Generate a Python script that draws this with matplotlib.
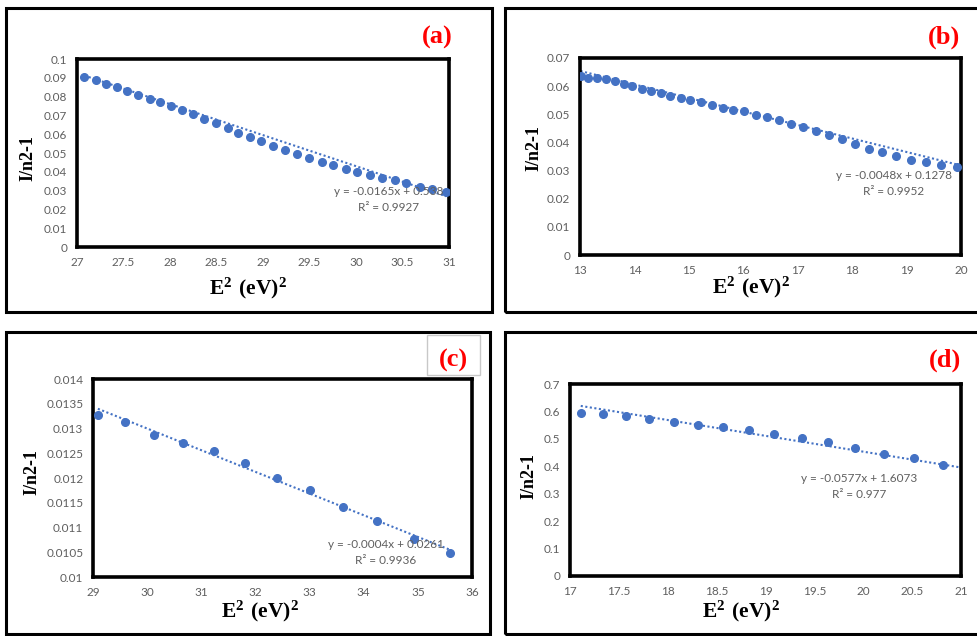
import numpy as np
import matplotlib
matplotlib.use('Agg')
import matplotlib.pyplot as plt
from matplotlib.patches import Rectangle
from matplotlib.ticker import FuncFormatter

W, H = 978, 636

plt.rcParams['mathtext.fontset'] = 'custom'
plt.rcParams['mathtext.rm'] = 'Liberation Serif'
plt.rcParams['mathtext.bf'] = 'Liberation Serif:bold'

# ── data ─────────────────────────────────────────────────────────────────────
xa = [27.08, 27.20, 27.31, 27.43, 27.54, 27.66, 27.78, 27.89, 28.01, 28.13, 28.25,
      28.37, 28.49, 28.62, 28.73, 28.86, 28.98, 29.11, 29.24, 29.37, 29.49, 29.63,
      29.75, 29.89, 30.01, 30.15, 30.28, 30.42, 30.54, 30.69, 30.82, 30.97]
ya = [0.0902, 0.0886, 0.0868, 0.0851, 0.0829, 0.0811, 0.0788, 0.0772, 0.0749, 0.0728,
      0.0705, 0.0683, 0.0660, 0.0632, 0.0609, 0.0587, 0.0562, 0.0539, 0.0518, 0.0495,
      0.0472, 0.0450, 0.0434, 0.0416, 0.0400, 0.0384, 0.0367, 0.0354, 0.0338, 0.0320,
      0.0311, 0.0294]

xb = [13.01, 13.15, 13.31, 13.47, 13.64, 13.80, 13.95, 14.13, 14.31, 14.48, 14.66,
      14.85, 15.03, 15.23, 15.42, 15.62, 15.81, 16.02, 16.23, 16.44, 16.65, 16.87,
      17.10, 17.33, 17.57, 17.81, 18.05, 18.31, 18.55, 18.81, 19.08, 19.36, 19.63, 19.92]
yb = [0.0636, 0.0629, 0.0629, 0.0626, 0.0617, 0.0607, 0.0600, 0.0591, 0.0584, 0.0577,
      0.0565, 0.0558, 0.0551, 0.0543, 0.0534, 0.0524, 0.0517, 0.0510, 0.0497, 0.0491,
      0.0480, 0.0467, 0.0456, 0.0442, 0.0427, 0.0411, 0.0393, 0.0378, 0.0367, 0.0352,
      0.0339, 0.0330, 0.0319, 0.0311]

xc = [29.09, 29.60, 30.13, 30.67, 31.24, 31.80, 32.40, 33.00, 33.62, 34.25, 34.93, 35.59]
yc = [0.01328, 0.01313, 0.01287, 0.01270, 0.01255, 0.01230, 0.01199, 0.01176,
      0.01142, 0.01113, 0.01077, 0.01049]

xd = [17.11, 17.34, 17.57, 17.81, 18.06, 18.31, 18.57, 18.83, 19.09, 19.37, 19.64,
      19.92, 20.21, 20.52, 20.82]
yd = [0.595, 0.591, 0.584, 0.572, 0.563, 0.552, 0.544, 0.533, 0.517, 0.503, 0.487,
      0.467, 0.446, 0.430, 0.406]

# trendline coefficients (slope, intercept)
fits = {'a': (-0.0165, 0.538), 'b': (-0.0048, 0.1278),
        'c': (-0.000438, 0.02614), 'd': (-0.0577, 1.6073)}
eq_text = {'a': ('y = -0.0165x + 0.538', 'R\u00b2 = 0.9927'),
           'b': ('y = -0.0048x + 0.1278', 'R\u00b2 = 0.9952'),
           'c': ('y = -0.0004x + 0.0261', 'R\u00b2 = 0.9936'),
           'd': ('y = -0.0577x + 1.6073', 'R\u00b2 = 0.977')}

BLUE = '#4472C4'
GREY = '#5f5f5f'

# panel layout in pixels: outer box, axes box, limits, ticks, label spots
panels = [
    dict(key='a', x=xa, y=ya, box=(6, 8, 492, 312), ax=(77, 59, 449, 247),
         xlim=(27, 31), xt=np.arange(27, 31.01, 0.5), ylim=(0, 0.1),
         yt=np.arange(0, 0.1001, 0.01), xend=None,
         tag=(437, 37), ylab=(28, 158), xlab=(248, 288), eq=(389, 192)),
    dict(key='b', x=xb, y=yb, box=(505, 8, 990, 312), ax=(580, 58, 961, 255),
         xlim=(13, 20), xt=np.arange(13, 20.01, 1), ylim=(0, 0.07),
         yt=np.arange(0, 0.0701, 0.01), xend=None,
         tag=(944, 37), ylab=(534, 148), xlab=(751, 287), eq=(894, 176)),
    dict(key='c', x=xc, y=yc, box=(6, 332, 490, 634), ax=(93, 379, 472, 577),
         xlim=(29, 36), xt=np.arange(29, 36.01, 1), ylim=(0.01, 0.014),
         yt=np.arange(0.01, 0.01401, 0.0005), xend=None,
         tag=(453, 360), ylab=(32, 472), xlab=(260, 611), eq=(386, 544)),
    dict(key='d', x=xd, y=yd, box=(505, 332, 990, 634), ax=(570, 384, 961, 576),
         xlim=(17, 21), xt=np.arange(17, 21.01, 0.5), ylim=(0, 0.7),
         yt=np.arange(0, 0.701, 0.1), xend=21,
         tag=(945, 360), ylab=(529, 476), xlab=(741, 611), eq=(859, 478)),
]


def fx(px):
    return px / W


def fy(py):
    return 1 - py / H


fig = plt.figure(figsize=(W / 100, H / 100), dpi=100)
fmt = FuncFormatter(lambda v, p: f'{round(v, 6):g}')

for p in panels:
    x0, y0, x1, y1 = p['box']
    fig.patches.append(Rectangle((fx(x0), fy(y1)), fx(x1 - x0), (y1 - y0) / H,
                                 transform=fig.transFigure, fill=False,
                                 edgecolor='black', linewidth=2.2, zorder=0))
    l, t, r, b = p['ax']
    ax = fig.add_axes([fx(l), fy(b), fx(r - l), (b - t) / H])
    x = np.array(p['x'])
    y = np.array(p['y'])
    m, c = fits[p['key']]
    xe = p['xend'] if p['xend'] else x.max()
    xl = np.array([x.min(), xe])
    ax.plot(xl, m * xl + c, color=BLUE, linestyle=(0, (1, 1.2)), linewidth=1.5, zorder=2)
    ax.plot(x, y, 'o', color=BLUE, markersize=5.5, zorder=3)

    ax.set_xlim(*p['xlim'])
    ax.set_ylim(*p['ylim'])
    ax.set_xticks(p['xt'])
    ax.set_yticks(p['yt'])
    ax.xaxis.set_major_formatter(fmt)
    ax.yaxis.set_major_formatter(fmt)
    ax.tick_params(length=0, labelsize=8.5, labelcolor=GREY, pad=7)
    for lab in ax.get_xticklabels() + ax.get_yticklabels():
        lab.set_family('Lato')
    for s in ax.spines.values():
        s.set_linewidth(2.6)
        s.set_color('black')

    eq1, eq2 = eq_text[p['key']]
    ex, ey = p['eq']
    fig.text(fx(ex), fy(ey), eq1, ha='center', va='center', fontsize=8.5,
             color=GREY, family='Lato')
    fig.text(fx(ex), fy(ey + 16), eq2, ha='center', va='center', fontsize=8.5,
             color=GREY, family='Lato')

    tx, ty = p['tag']
    fig.text(fx(tx), fy(ty), f"({p['key']})", ha='center', va='center',
             fontsize=19, fontweight='bold', color='red', family='Liberation Serif')
    lx, ly = p['ylab']
    fig.text(fx(lx), fy(ly), 'I/n2-1', ha='center', va='center', rotation=90,
             fontsize=13, fontweight='bold', family='Liberation Serif')
    xx, xy = p['xlab']
    fig.text(fx(xx), fy(xy), r'$\mathbf{E^{2}\ (eV)^{2}}$', ha='center', va='center',
             fontsize=15.5)

# thin grey frame round the (c) tag
fig.patches.append(Rectangle((fx(427), fy(375)), fx(53), 40 / H,
                             transform=fig.transFigure, fill=False,
                             edgecolor='#c8c8c8', linewidth=1, zorder=0))

plt.savefig('out.png', dpi=100)
plt.close()
